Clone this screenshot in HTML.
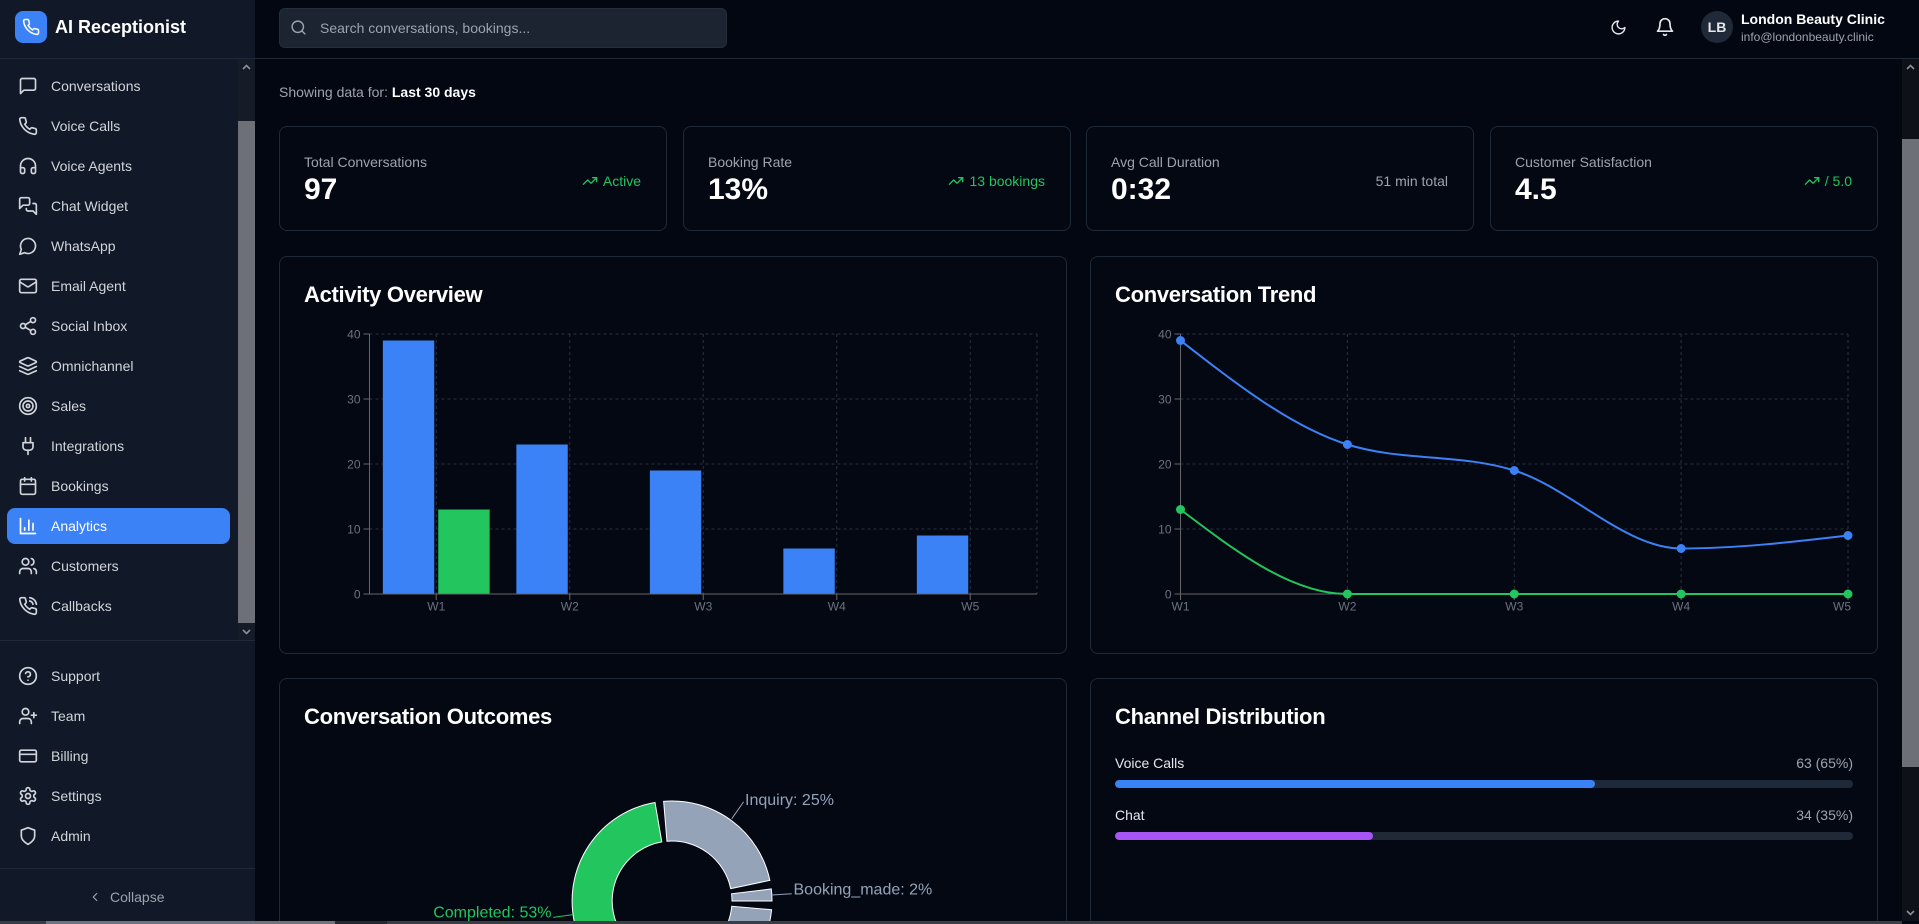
<!DOCTYPE html>
<html><head><meta charset="utf-8">
<style>
*{box-sizing:border-box;margin:0;padding:0}
html,body{width:1919px;height:924px;overflow:hidden;background:#030712;font-family:"Liberation Sans",Arial,sans-serif;color:#f3f4f6}
body{position:relative}
.a{position:absolute}
svg{overflow:hidden}
#sb{position:absolute;left:0;top:0;width:255px;height:924px;background:#111827}
.ni{position:absolute;left:7px;width:223px;height:36px;display:flex;align-items:center;padding-left:11px;gap:13px;font-size:14px;color:#d1d5db;border-radius:8px;white-space:nowrap}
.ni svg{flex-shrink:0}
.ni.act{background:#3b82f6;color:#fff}
.card{position:absolute;border:1px solid #1f2937;border-radius:8px;background:#040813}
.lbl{position:absolute;left:24px;top:25px;font-size:14px;line-height:20px;color:#9ca3af;white-space:nowrap}
.val{position:absolute;left:24px;top:45px;font-size:30px;line-height:36px;font-weight:700;color:#fff}
.rt{position:absolute;right:25px;top:44px;height:20px;display:flex;align-items:center;gap:5px;font-size:14px;color:#22c55e;white-space:nowrap}
.ttl{position:absolute;left:24px;top:26px;font-size:22px;line-height:24px;font-weight:700;color:#fff;letter-spacing:-0.3px;white-space:nowrap}
.row{position:absolute;left:24px;right:24px;font-size:14px;line-height:20px;display:flex;justify-content:space-between}
.trk{position:absolute;left:24px;right:24px;height:8px;border-radius:4px;background:#1f2937;overflow:hidden}
.trk div{height:8px;border-radius:4px}
.cut{border-bottom:none;border-bottom-left-radius:0;border-bottom-right-radius:0}
</style></head><body>

<!-- Sidebar -->
<div id="sb">
  <div class="a" style="left:15px;top:11px;width:32px;height:32px;border-radius:8px;background:#3b82f6;display:flex;align-items:center;justify-content:center">
    <svg width="18" height="18" viewBox="0 0 24 24" fill="none" stroke="#fff" stroke-width="2" stroke-linecap="round" stroke-linejoin="round"><path d="M22 16.92v3a2 2 0 0 1-2.18 2 19.79 19.79 0 0 1-8.63-3.07 19.5 19.5 0 0 1-6-6 19.79 19.79 0 0 1-3.07-8.67A2 2 0 0 1 4.11 2h3a2 2 0 0 1 2 1.72 12.84 12.84 0 0 0 .7 2.81 2 2 0 0 1-.45 2.11L8.09 9.91a16 16 0 0 0 6 6l1.27-1.27a2 2 0 0 1 2.11-.45 12.84 12.84 0 0 0 2.81.7A2 2 0 0 1 22 16.92z"/></svg>
  </div>
  <div class="a" style="left:55px;top:16px;font-size:18px;line-height:22px;font-weight:700;color:#fff;white-space:nowrap">AI Receptionist</div>

  <!-- sidebar scrollbar -->
  <div class="a" style="left:238px;top:58px;width:17px;height:582px;background:#151b27"></div>
  <div class="a" style="left:238px;top:121px;width:17px;height:502px;background:#6e7078"></div>
  <svg class="a" style="left:241px;top:63px" width="11" height="8" viewBox="0 0 11 8"><polyline points="2,6 5.5,2.5 9,6" fill="none" stroke="#8b8f98" stroke-width="1.6"/></svg>
  <svg class="a" style="left:241px;top:628px" width="11" height="8" viewBox="0 0 11 8"><polyline points="2,2 5.5,5.5 9,2" fill="none" stroke="#8b8f98" stroke-width="1.6"/></svg>

  <div class="ni" style="top:68px"><svg width="20" height="20" viewBox="0 0 24 24" fill="none" stroke="currentColor" stroke-width="2" stroke-linecap="round" stroke-linejoin="round"><path d="M21 15a2 2 0 0 1-2 2H7l-4 4V5a2 2 0 0 1 2-2h14a2 2 0 0 1 2 2z"/></svg><span>Conversations</span></div>
  <div class="ni" style="top:108px"><svg width="20" height="20" viewBox="0 0 24 24" fill="none" stroke="currentColor" stroke-width="2" stroke-linecap="round" stroke-linejoin="round"><path d="M22 16.92v3a2 2 0 0 1-2.18 2 19.79 19.79 0 0 1-8.63-3.07 19.5 19.5 0 0 1-6-6 19.79 19.79 0 0 1-3.07-8.67A2 2 0 0 1 4.11 2h3a2 2 0 0 1 2 1.72 12.84 12.84 0 0 0 .7 2.81 2 2 0 0 1-.45 2.11L8.09 9.91a16 16 0 0 0 6 6l1.27-1.27a2 2 0 0 1 2.11-.45 12.84 12.84 0 0 0 2.81.7A2 2 0 0 1 22 16.92z"/></svg><span>Voice Calls</span></div>
  <div class="ni" style="top:148px"><svg width="20" height="20" viewBox="0 0 24 24" fill="none" stroke="currentColor" stroke-width="2" stroke-linecap="round" stroke-linejoin="round"><path d="M3 14h3a2 2 0 0 1 2 2v3a2 2 0 0 1-2 2H5a2 2 0 0 1-2-2v-7a9 9 0 0 1 18 0v7a2 2 0 0 1-2 2h-1a2 2 0 0 1-2-2v-3a2 2 0 0 1 2-2h3"/></svg><span>Voice Agents</span></div>
  <div class="ni" style="top:188px"><svg width="20" height="20" viewBox="0 0 24 24" fill="none" stroke="currentColor" stroke-width="2" stroke-linecap="round" stroke-linejoin="round"><path d="M14 9a2 2 0 0 1-2 2H6l-4 4V4a2 2 0 0 1 2-2h8a2 2 0 0 1 2 2z"/><path d="M18 9h2a2 2 0 0 1 2 2v11l-4-4h-6a2 2 0 0 1-2-2v-1"/></svg><span>Chat Widget</span></div>
  <div class="ni" style="top:228px"><svg width="20" height="20" viewBox="0 0 24 24" fill="none" stroke="currentColor" stroke-width="2" stroke-linecap="round" stroke-linejoin="round"><path d="M7.9 20A9 9 0 1 0 4 16.1L2 22Z"/></svg><span>WhatsApp</span></div>
  <div class="ni" style="top:268px"><svg width="20" height="20" viewBox="0 0 24 24" fill="none" stroke="currentColor" stroke-width="2" stroke-linecap="round" stroke-linejoin="round"><rect width="20" height="16" x="2" y="4" rx="2"/><path d="m22 7-8.97 5.7a1.94 1.94 0 0 1-2.06 0L2 7"/></svg><span>Email Agent</span></div>
  <div class="ni" style="top:308px"><svg width="20" height="20" viewBox="0 0 24 24" fill="none" stroke="currentColor" stroke-width="2" stroke-linecap="round" stroke-linejoin="round"><circle cx="18" cy="5" r="3"/><circle cx="6" cy="12" r="3"/><circle cx="18" cy="19" r="3"/><path d="M8.59 13.51l6.83 3.98M15.41 6.51l-6.82 3.98"/></svg><span>Social Inbox</span></div>
  <div class="ni" style="top:348px"><svg width="20" height="20" viewBox="0 0 24 24" fill="none" stroke="currentColor" stroke-width="2" stroke-linecap="round" stroke-linejoin="round"><path d="M12.83 2.18a2 2 0 0 0-1.66 0L2.6 6.08a1 1 0 0 0 0 1.83l8.58 3.91a2 2 0 0 0 1.66 0l8.58-3.9a1 1 0 0 0 0-1.83Z"/><path d="m22 17.65-9.17 4.16a2 2 0 0 1-1.66 0L2 17.65"/><path d="m22 12.65-9.17 4.16a2 2 0 0 1-1.66 0L2 12.65"/></svg><span>Omnichannel</span></div>
  <div class="ni" style="top:388px"><svg width="20" height="20" viewBox="0 0 24 24" fill="none" stroke="currentColor" stroke-width="2" stroke-linecap="round" stroke-linejoin="round"><circle cx="12" cy="12" r="10"/><circle cx="12" cy="12" r="6"/><circle cx="12" cy="12" r="2"/></svg><span>Sales</span></div>
  <div class="ni" style="top:428px"><svg width="20" height="20" viewBox="0 0 24 24" fill="none" stroke="currentColor" stroke-width="2" stroke-linecap="round" stroke-linejoin="round"><path d="M12 22v-5"/><path d="M9 8V2"/><path d="M15 8V2"/><path d="M18 8v5a4 4 0 0 1-4 4h-4a4 4 0 0 1-4-4V8Z"/></svg><span>Integrations</span></div>
  <div class="ni" style="top:468px"><svg width="20" height="20" viewBox="0 0 24 24" fill="none" stroke="currentColor" stroke-width="2" stroke-linecap="round" stroke-linejoin="round"><rect width="18" height="18" x="3" y="4" rx="2"/><path d="M16 2v4M8 2v4M3 10h18"/></svg><span>Bookings</span></div>
  <div class="ni act" style="top:508px"><svg width="20" height="20" viewBox="0 0 24 24" fill="none" stroke="currentColor" stroke-width="2" stroke-linecap="round" stroke-linejoin="round"><path d="M3 3v18h18"/><path d="M18 17V9M13 17V5M8 17v-3"/></svg><span>Analytics</span></div>
  <div class="ni" style="top:548px"><svg width="20" height="20" viewBox="0 0 24 24" fill="none" stroke="currentColor" stroke-width="2" stroke-linecap="round" stroke-linejoin="round"><path d="M16 21v-2a4 4 0 0 0-4-4H6a4 4 0 0 0-4 4v2"/><circle cx="9" cy="7" r="4"/><path d="M22 21v-2a4 4 0 0 0-3-3.87M16 3.13a4 4 0 0 1 0 7.75"/></svg><span>Customers</span></div>
  <div class="ni" style="top:588px"><svg width="20" height="20" viewBox="0 0 24 24" fill="none" stroke="currentColor" stroke-width="2" stroke-linecap="round" stroke-linejoin="round"><path d="M22 16.92v3a2 2 0 0 1-2.18 2 19.79 19.79 0 0 1-8.63-3.07 19.5 19.5 0 0 1-6-6 19.79 19.79 0 0 1-3.07-8.67A2 2 0 0 1 4.11 2h3a2 2 0 0 1 2 1.72 12.84 12.84 0 0 0 .7 2.81 2 2 0 0 1-.45 2.11L8.09 9.91a16 16 0 0 0 6 6l1.27-1.27a2 2 0 0 1 2.11-.45 12.84 12.84 0 0 0 2.81.7A2 2 0 0 1 22 16.92z"/><path d="M14.05 2a9 9 0 0 1 8 7.94M14.05 6A5 5 0 0 1 18 10"/></svg><span>Callbacks</span></div>

  <div class="a" style="left:0;top:640px;width:255px;height:1px;background:#1f2937"></div>

  <div class="ni" style="top:658px"><svg width="20" height="20" viewBox="0 0 24 24" fill="none" stroke="currentColor" stroke-width="2" stroke-linecap="round" stroke-linejoin="round"><circle cx="12" cy="12" r="10"/><path d="M9.09 9a3 3 0 0 1 5.83 1c0 2-3 3-3 3"/><path d="M12 17h.01"/></svg><span>Support</span></div>
  <div class="ni" style="top:698px"><svg width="20" height="20" viewBox="0 0 24 24" fill="none" stroke="currentColor" stroke-width="2" stroke-linecap="round" stroke-linejoin="round"><path d="M16 21v-2a4 4 0 0 0-4-4H6a4 4 0 0 0-4 4v2"/><circle cx="9" cy="7" r="4"/><path d="M19 8v6M22 11h-6"/></svg><span>Team</span></div>
  <div class="ni" style="top:738px"><svg width="20" height="20" viewBox="0 0 24 24" fill="none" stroke="currentColor" stroke-width="2" stroke-linecap="round" stroke-linejoin="round"><rect width="20" height="14" x="2" y="5" rx="2"/><path d="M2 10h20"/></svg><span>Billing</span></div>
  <div class="ni" style="top:778px"><svg width="20" height="20" viewBox="0 0 24 24" fill="none" stroke="currentColor" stroke-width="2" stroke-linecap="round" stroke-linejoin="round"><path d="M12.22 2h-.44a2 2 0 0 0-2 2v.18a2 2 0 0 1-1 1.73l-.43.25a2 2 0 0 1-2 0l-.15-.08a2 2 0 0 0-2.73.73l-.22.38a2 2 0 0 0 .73 2.73l.15.1a2 2 0 0 1 1 1.72v.51a2 2 0 0 1-1 1.74l-.15.09a2 2 0 0 0-.73 2.73l.22.38a2 2 0 0 0 2.73.73l.15-.08a2 2 0 0 1 2 0l.43.25a2 2 0 0 1 1 1.73V20a2 2 0 0 0 2 2h.44a2 2 0 0 0 2-2v-.18a2 2 0 0 1 1-1.73l.43-.25a2 2 0 0 1 2 0l.15.08a2 2 0 0 0 2.73-.73l.22-.39a2 2 0 0 0-.73-2.73l-.15-.08a2 2 0 0 1-1-1.74v-.5a2 2 0 0 1 1-1.74l.15-.09a2 2 0 0 0 .73-2.73l-.22-.38a2 2 0 0 0-2.73-.73l-.15.08a2 2 0 0 1-2 0l-.43-.25a2 2 0 0 1-1-1.73V4a2 2 0 0 0-2-2z"/><circle cx="12" cy="12" r="3"/></svg><span>Settings</span></div>
  <div class="ni" style="top:818px"><svg width="20" height="20" viewBox="0 0 24 24" fill="none" stroke="currentColor" stroke-width="2" stroke-linecap="round" stroke-linejoin="round"><path d="M12 22s8-4 8-10V5l-8-3-8 3v7c0 6 8 10 8 10z"/></svg><span>Admin</span></div>

  <div class="a" style="left:0;top:868px;width:255px;height:1px;background:#1f2937"></div>
  <svg class="a" style="left:88px;top:890px" width="14" height="14" viewBox="0 0 24 24" fill="none" stroke="#9ca3af" stroke-width="2" stroke-linecap="round" stroke-linejoin="round"><path d="m15 18-6-6 6-6"/></svg>
  <div class="a" style="left:110px;top:888px;font-size:14px;line-height:18px;color:#9ca3af">Collapse</div>
</div>

<!-- Header -->
<div class="a" style="left:0;top:58px;width:1919px;height:1px;background:#1f2937"></div>
<div class="a" style="left:279px;top:8px;width:448px;height:40px;border-radius:6px;background:#1c2331;border:1px solid #262e3d"></div>
<svg class="a" style="left:290px;top:19px" width="17" height="17" viewBox="0 0 24 24" fill="none" stroke="#9ca3af" stroke-width="2" stroke-linecap="round" stroke-linejoin="round"><circle cx="11" cy="11" r="8"/><path d="m21 21-4.3-4.3"/></svg>
<div class="a" style="left:320px;top:18px;font-size:14px;line-height:20px;color:#9ca3af;white-space:nowrap">Search conversations, bookings...</div>

<svg class="a" style="left:1610px;top:19px" width="17" height="17" viewBox="0 0 24 24" fill="none" stroke="#e5e7eb" stroke-width="2" stroke-linecap="round" stroke-linejoin="round"><path d="M12 3a6 6 0 0 0 9 9 9 9 0 1 1-9-9Z"/></svg>
<svg class="a" style="left:1655px;top:17px" width="20" height="20" viewBox="0 0 24 24" fill="none" stroke="#e5e7eb" stroke-width="2" stroke-linecap="round" stroke-linejoin="round"><path d="M6 8a6 6 0 0 1 12 0c0 7 3 9 3 9H3s3-2 3-9"/><path d="M10.3 21a1.94 1.94 0 0 0 3.4 0"/></svg>
<div class="a" style="left:1701px;top:11px;width:32px;height:32px;border-radius:16px;background:#1f2937;display:flex;align-items:center;justify-content:center;font-size:14px;font-weight:700;color:#e5e7eb">LB</div>
<div class="a" style="left:1741px;top:10px;font-size:14px;line-height:18px;font-weight:700;color:#fff;white-space:nowrap">London Beauty Clinic</div>
<div class="a" style="left:1741px;top:29px;font-size:12px;line-height:16px;color:#9ca3af;white-space:nowrap">info@londonbeauty.clinic</div>

<!-- main scrollbar -->
<div class="a" style="left:1902px;top:59px;width:17px;height:862px;background:#0e1118"></div>
<div class="a" style="left:1902px;top:139px;width:17px;height:628px;background:#6e7078"></div>
<svg class="a" style="left:1905px;top:63px" width="11" height="8" viewBox="0 0 11 8"><polyline points="2,6 5.5,2.5 9,6" fill="none" stroke="#8b8f98" stroke-width="1.6"/></svg>
<svg class="a" style="left:1905px;top:909px" width="11" height="8" viewBox="0 0 11 8"><polyline points="2,2 5.5,5.5 9,2" fill="none" stroke="#8b8f98" stroke-width="1.6"/></svg>

<!-- Showing -->
<div class="a" style="left:279px;top:83px;font-size:14px;line-height:18px;color:#9ca3af;white-space:nowrap">Showing data for: <span style="color:#fff;font-weight:700">Last 30 days</span></div>

<!-- Stat cards -->
<div class="card" style="left:279px;top:126px;width:388px;height:105px">
  <div class="lbl">Total Conversations</div><div class="val">97</div>
  <div class="rt"><svg width="16" height="16" viewBox="0 0 24 24" fill="none" stroke="currentColor" stroke-width="2" stroke-linecap="round" stroke-linejoin="round"><polyline points="22 7 13.5 15.5 8.5 10.5 2 17"/><polyline points="16 7 22 7 22 13"/></svg>Active</div>
</div>
<div class="card" style="left:683px;top:126px;width:388px;height:105px">
  <div class="lbl">Booking Rate</div><div class="val">13%</div>
  <div class="rt"><svg width="16" height="16" viewBox="0 0 24 24" fill="none" stroke="currentColor" stroke-width="2" stroke-linecap="round" stroke-linejoin="round"><polyline points="22 7 13.5 15.5 8.5 10.5 2 17"/><polyline points="16 7 22 7 22 13"/></svg>13 bookings</div>
</div>
<div class="card" style="left:1086px;top:126px;width:388px;height:105px">
  <div class="lbl">Avg Call Duration</div><div class="val">0:32</div>
  <div class="rt" style="color:#9ca3af">51 min total</div>
</div>
<div class="card" style="left:1490px;top:126px;width:388px;height:105px">
  <div class="lbl">Customer Satisfaction</div><div class="val">4.5</div>
  <div class="rt"><svg width="16" height="16" viewBox="0 0 24 24" fill="none" stroke="currentColor" stroke-width="2" stroke-linecap="round" stroke-linejoin="round"><polyline points="22 7 13.5 15.5 8.5 10.5 2 17"/><polyline points="16 7 22 7 22 13"/></svg>/ 5.0</div>
</div>

<!-- Chart cards -->
<div class="card" style="left:279px;top:256px;width:788px;height:398px"><div class="ttl">Activity Overview</div></div>
<div class="card" style="left:1090px;top:256px;width:788px;height:398px"><div class="ttl">Conversation Trend</div></div>
<div class="card cut" style="left:279px;top:678px;width:788px;height:243px"><div class="ttl">Conversation Outcomes</div></div>
<div class="card cut" style="left:1090px;top:678px;width:788px;height:243px">
  <div class="ttl">Channel Distribution</div>
  <div class="row" style="top:74px"><span style="color:#e5e7eb">Voice Calls</span><span style="color:#9ca3af">63 (65%)</span></div>
  <div class="trk" style="top:101px"><div style="width:65%;background:#3b82f6"></div></div>
  <div class="row" style="top:126px"><span style="color:#e5e7eb">Chat</span><span style="color:#9ca3af">34 (35%)</span></div>
  <div class="trk" style="top:153px"><div style="width:35%;background:#a855f7"></div></div>
</div>

<!-- Charts overlay -->
<svg class="a" style="left:0;top:0" width="1919" height="924" viewBox="0 0 1919 924" font-family="Liberation Sans, Arial, sans-serif">
  <!-- Bar chart grid -->
  <g stroke="#2a313e" stroke-dasharray="3 3" fill="none">
    <line x1="369.5" y1="334" x2="1037" y2="334"/><line x1="369.5" y1="399" x2="1037" y2="399"/>
    <line x1="369.5" y1="464" x2="1037" y2="464"/><line x1="369.5" y1="529" x2="1037" y2="529"/>
    <line x1="436.25" y1="334" x2="436.25" y2="594"/><line x1="569.75" y1="334" x2="569.75" y2="594"/>
    <line x1="703.25" y1="334" x2="703.25" y2="594"/><line x1="836.75" y1="334" x2="836.75" y2="594"/>
    <line x1="970.25" y1="334" x2="970.25" y2="594"/><line x1="1037" y1="334" x2="1037" y2="594"/>
  </g>
  <g fill="#3b82f6">
    <rect x="382.85" y="340.5" width="51.4" height="253.5"/>
    <rect x="516.35" y="444.5" width="51.4" height="149.5"/>
    <rect x="649.85" y="470.5" width="51.4" height="123.5"/>
    <rect x="783.35" y="548.5" width="51.4" height="45.5"/>
    <rect x="916.85" y="535.5" width="51.4" height="58.5"/>
  </g>
  <rect x="438.25" y="509.5" width="51.4" height="84.5" fill="#22c55e"/>
  <g stroke="#666" fill="none">
    <line x1="369.5" y1="334" x2="369.5" y2="594"/><line x1="369.5" y1="594" x2="1037" y2="594"/>
    <line x1="363.5" y1="334" x2="369.5" y2="334"/><line x1="363.5" y1="399" x2="369.5" y2="399"/>
    <line x1="363.5" y1="464" x2="369.5" y2="464"/><line x1="363.5" y1="529" x2="369.5" y2="529"/>
    <line x1="363.5" y1="594" x2="369.5" y2="594"/>
    <line x1="436.25" y1="594" x2="436.25" y2="600"/><line x1="569.75" y1="594" x2="569.75" y2="600"/>
    <line x1="703.25" y1="594" x2="703.25" y2="600"/><line x1="836.75" y1="594" x2="836.75" y2="600"/>
    <line x1="970.25" y1="594" x2="970.25" y2="600"/>
  </g>
  <g fill="#6b7280" font-size="12" text-anchor="end">
    <text x="360.5" y="338.3">40</text><text x="360.5" y="403.3">30</text><text x="360.5" y="468.3">20</text>
    <text x="360.5" y="533.3">10</text><text x="360.5" y="598.3">0</text>
  </g>
  <g fill="#6b7280" font-size="12" text-anchor="middle">
    <text x="436.25" y="610.5">W1</text><text x="569.75" y="610.5">W2</text><text x="703.25" y="610.5">W3</text>
    <text x="836.75" y="610.5">W4</text><text x="970.25" y="610.5">W5</text>
  </g>

  <!-- Line chart grid -->
  <g stroke="#2a313e" stroke-dasharray="3 3" fill="none">
    <line x1="1180.5" y1="334" x2="1848" y2="334"/><line x1="1180.5" y1="399" x2="1848" y2="399"/>
    <line x1="1180.5" y1="464" x2="1848" y2="464"/><line x1="1180.5" y1="529" x2="1848" y2="529"/>
    <line x1="1347.375" y1="334" x2="1347.375" y2="594"/><line x1="1514.25" y1="334" x2="1514.25" y2="594"/>
    <line x1="1681.125" y1="334" x2="1681.125" y2="594"/><line x1="1848" y1="334" x2="1848" y2="594"/>
  </g>
  <g stroke="#666" fill="none">
    <line x1="1180.5" y1="334" x2="1180.5" y2="594"/><line x1="1180.5" y1="594" x2="1848" y2="594"/>
    <line x1="1174.5" y1="334" x2="1180.5" y2="334"/><line x1="1174.5" y1="399" x2="1180.5" y2="399"/>
    <line x1="1174.5" y1="464" x2="1180.5" y2="464"/><line x1="1174.5" y1="529" x2="1180.5" y2="529"/>
    <line x1="1174.5" y1="594" x2="1180.5" y2="594"/>
    <line x1="1180.5" y1="594" x2="1180.5" y2="600"/><line x1="1347.375" y1="594" x2="1347.375" y2="600"/>
    <line x1="1514.25" y1="594" x2="1514.25" y2="600"/><line x1="1681.125" y1="594" x2="1681.125" y2="600"/>
    <line x1="1848" y1="594" x2="1848" y2="600"/>
  </g>
  <g fill="#6b7280" font-size="12" text-anchor="end">
    <text x="1171.5" y="338.3">40</text><text x="1171.5" y="403.3">30</text><text x="1171.5" y="468.3">20</text>
    <text x="1171.5" y="533.3">10</text><text x="1171.5" y="598.3">0</text>
  </g>
  <g fill="#6b7280" font-size="12" text-anchor="middle">
    <text x="1180.5" y="610.5">W1</text><text x="1347.375" y="610.5">W2</text><text x="1514.25" y="610.5">W3</text>
    <text x="1681.125" y="610.5">W4</text><text x="1842" y="610.5">W5</text>
  </g>
  <path d="M1180.5,340.5 C1236.125,383.83 1291.75,427.17 1347.375,444.5 C1403,461.83 1458.625,453.17 1514.25,470.5 C1569.875,487.83 1625.5,548.5 1681.125,548.5 C1736.75,548.5 1792.375,542 1848,535.5" fill="none" stroke="#3b82f6" stroke-width="2"/>
  <path d="M1180.5,509.5 C1236.125,551.75 1291.75,594 1347.375,594 L1848,594" fill="none" stroke="#22c55e" stroke-width="2"/>
  <g fill="#3b82f6" stroke="#3b82f6" stroke-width="1">
    <circle cx="1180.5" cy="340.5" r="4"/><circle cx="1347.375" cy="444.5" r="4"/><circle cx="1514.25" cy="470.5" r="4"/>
    <circle cx="1681.125" cy="548.5" r="4"/><circle cx="1848" cy="535.5" r="4"/>
  </g>
  <g fill="#22c55e" stroke="#22c55e" stroke-width="1">
    <circle cx="1180.5" cy="509.5" r="4"/><circle cx="1347.375" cy="594" r="4"/><circle cx="1514.25" cy="594" r="4"/>
    <circle cx="1681.125" cy="594" r="4"/><circle cx="1848" cy="594" r="4"/>
  </g>

  <!-- Pie (clipped at y=924) -->
  <g stroke="#ffffff" stroke-width="1">
    <path d="M772,901 A100,100 0 0 0 771.27,888.97 L731.56,893.78 A60,60 0 0 1 732,901 Z" fill="#94a3b8"/>
    <path d="M769.85,880.36 A100,100 0 0 0 663.63,801.35 L666.98,841.21 A60,60 0 0 1 730.71,888.62 Z" fill="#94a3b8"/>
    <path d="M654.98,802.46 A100,100 0 0 0 574.68,923.5 L616.57,923.5 A60,60 0 0 1 661.79,841.88 Z" fill="#22c55e"/>
    <path d="M769.32,923.5 A100,100 0 0 0 771.62,909.72 L731.77,906.23 A60,60 0 0 1 727.52,923.5 Z" fill="#94a3b8"/>
  </g>
  <g fill="none" stroke-width="1">
    <line x1="771.82" y1="894.97" x2="791.78" y2="893.77" stroke="#94a3b8"/>
    <line x1="731.7" y1="818.78" x2="743.64" y2="801.73" stroke="#94a3b8"/>
    <line x1="572.94" y1="914.68" x2="553.13" y2="917.42" stroke="#22c55e"/>
  </g>
  <g font-size="16">
    <text x="793.5" y="894.5" fill="#94a3b8">Booking_made: 2%</text>
    <text x="745" y="805" fill="#94a3b8">Inquiry: 25%</text>
    <text x="551.5" y="917.5" fill="#22c55e" text-anchor="end">Completed: 53%</text>
  </g>
</svg>

<!-- bottom horizontal scrollbar strip -->
<div class="a" style="left:0;top:921px;width:1902px;height:3px;background:#3a3d44"></div>
<div class="a" style="left:46px;top:921px;width:289px;height:3px;background:#70737b"></div>
<div class="a" style="left:335px;top:921px;width:52px;height:3px;background:#25282e"></div>
</body></html>
